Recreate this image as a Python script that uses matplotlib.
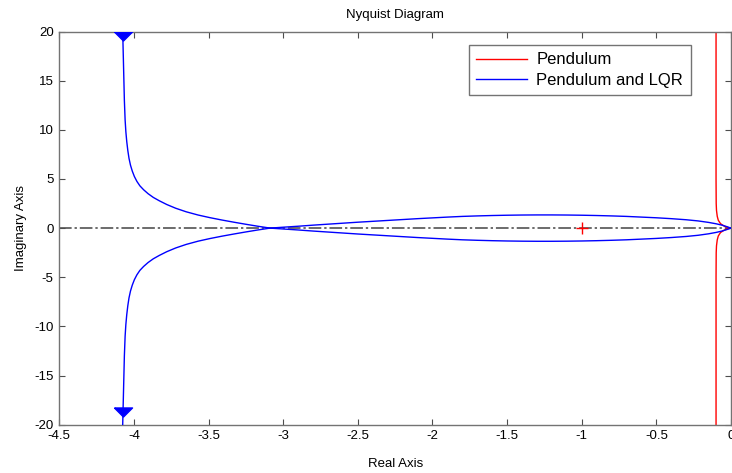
import matplotlib
matplotlib.use('Agg')
import matplotlib.pyplot as plt
import numpy as np

plt.rcParams['font.family'] = ['Liberation Sans', 'DejaVu Sans']
plt.rcParams['axes.unicode_minus'] = False

# Pendulum with LQR, positive-frequency branch (real, imag)
lqr_re = [-4.076, -4.072, -4.068, -4.064, -4.059, -4.054, -4.048, -4.041,
          -4.033, -4.023, -4.011, -3.997, -3.98, -3.96, -3.935, -3.905,
          -3.87, -3.83, -3.78, -3.72, -3.65, -3.57, -3.49, -3.41, -3.33,
          -3.25, -3.17, -3.088,
          -3.0, -2.9, -2.8, -2.7, -2.6, -2.5, -2.4, -2.3, -2.2, -2.1, -2.0,
          -1.9, -1.8, -1.7, -1.6, -1.5, -1.4, -1.3, -1.2, -1.1, -1.0, -0.9,
          -0.8, -0.7, -0.6, -0.5, -0.4, -0.3, -0.22, -0.15, -0.1, -0.06,
          -0.03, 0.0]
lqr_im = [20.5, 18.0, 15.5, 13.0, 11.0, 9.8, 8.8, 7.9,
          7.1, 6.4, 5.8, 5.25, 4.75, 4.3, 3.9, 3.5,
          3.12, 2.78, 2.4, 2.02, 1.66, 1.33, 1.06, 0.82, 0.6,
          0.39, 0.19, 0.0,
          -0.09, -0.19, -0.3, -0.4, -0.5, -0.6, -0.69, -0.78, -0.87, -0.96,
          -1.04, -1.12, -1.19, -1.24, -1.28, -1.31, -1.33, -1.34, -1.34,
          -1.33, -1.31, -1.28, -1.24, -1.19, -1.12, -1.05, -0.96, -0.85,
          -0.73, -0.58, -0.44, -0.3, -0.16, 0.0]

# Pendulum only, upper branch (real, imag)
pend_re = [-0.1, -0.1, -0.099, -0.097, -0.092, -0.085, -0.07, -0.045,
           -0.02, 0.0]
pend_im = [20.5, 5.0, 2.5, 1.8, 1.2, 0.8, 0.45, 0.2, 0.06, 0.0]

# direction arrows on the LQR curve
arrow_re = [-4.072, -4.072]
arrow_im = [19.56, -18.68]

xticks = [-4.5, -4, -3.5, -3, -2.5, -2, -1.5, -1, -0.5, 0]
xticklabels = ['-4.5', '-4', '-3.5', '-3', '-2.5', '-2', '-1.5', '-1', '-0.5', '0']
yticks = [-20, -15, -10, -5, 0, 5, 10, 15, 20]

fig = plt.figure(figsize=(7.32, 4.73), dpi=100)
ax = fig.add_axes([0.081, 0.1021, 0.9176, 0.8313])

# real axis
ax.plot([-4.5, 0], [0, 0], color='0.42', lw=1.4,
        linestyle=(0, (6.5, 1.5, 1.2, 1.5)), zorder=1)

lqr_re = np.array(lqr_re)
lqr_im = np.array(lqr_im)
pend_re = np.array(pend_re)
pend_im = np.array(pend_im)

ax.plot(pend_re, pend_im, '-', color='r', lw=1.0, label='Pendulum', zorder=2)
ax.plot(pend_re, -pend_im, '-', color='r', lw=1.0, zorder=2)
ax.plot(lqr_re, lqr_im, '-', color='b', lw=1.0, label='Pendulum and LQR',
        zorder=3)
ax.plot(lqr_re, -lqr_im, '-', color='b', lw=1.0, zorder=3)

tri = [(-1, 0.5), (1, 0.5), (0, -0.5), (-1, 0.5)]
ax.plot(arrow_re, arrow_im, linestyle='none', marker=tri, ms=13,
        color='b', mec='b', zorder=4)

# critical point
ax.plot([-1], [0], '+', color='r', ms=9, mew=1.0, zorder=5)

ax.set_xlim(-4.5, 0)
ax.set_ylim(-20, 20)
ax.set_xticks(xticks)
ax.set_xticklabels(xticklabels)
ax.set_yticks(yticks)
ax.tick_params(direction='in', length=4, width=0.8, color='0.3',
               top=True, right=True, labelsize=9.5, pad=4)
for sp in ax.spines.values():
    sp.set_color('0.45')
    sp.set_linewidth(1.0)

ax.set_title('Nyquist Diagram', fontsize=9.5, pad=10)
ax.set_xlabel('Real Axis', fontsize=9.5, labelpad=11)
ax.set_ylabel('Imaginary Axis', fontsize=9.5, labelpad=5)

leg = ax.legend(loc='upper right', bbox_to_anchor=(0.940, 0.9657),
                borderaxespad=0, fontsize=12, fancybox=False,
                handlelength=3.05, handletextpad=0.55, labelspacing=0.33,
                borderpad=0.45, framealpha=1)
leg.get_frame().set_edgecolor('0.45')
leg.get_frame().set_linewidth(1.0)

plt.savefig('out.png', dpi=100)
plt.close()
